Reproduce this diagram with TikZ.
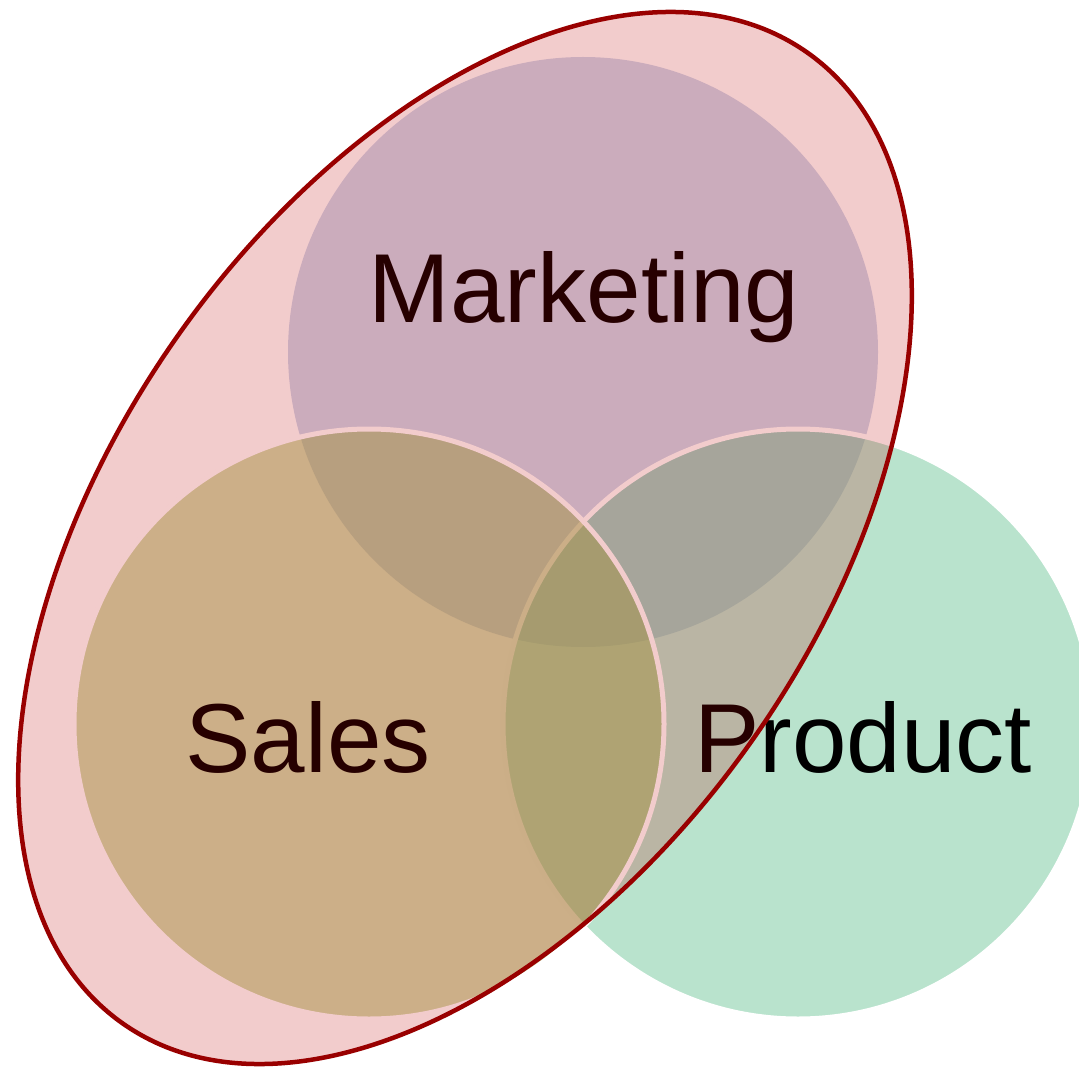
\documentclass[tikz,border=0pt]{standalone}
\usepackage{fontspec}
\setmainfont{Liberation Sans}
\definecolor{mkt}{RGB}{157,175,215}
\definecolor{prd}{RGB}{115,199,155}
\definecolor{sls}{RGB}{159,183,85}
\definecolor{ellfill}{RGB}{192,0,0}
\definecolor{ellline}{RGB}{153,0,0}
\tikzset{
  setcircle/.style={fill opacity=0.5, draw opacity=1},
  stroked/.style={draw=white, line width=5pt},
  lbl/.style={anchor=base, inner sep=0pt, text=black, font=\fontsize{98}{110}\selectfont},
  bigell/.style={fill=ellfill, fill opacity=0.2, draw=ellline, draw opacity=1, line width=4.5pt}
}
\begin{document}
\begin{tikzpicture}[x=1pt,y=1pt]
\useasboundingbox (0,0) rectangle (1079,-1067);
\clip (0,0) rectangle (1079,-1067);
% circles
\fill[mkt, setcircle] (583,-352) circle[radius=295pt];
\path[fill=prd, setcircle, stroked] (798,-724) circle[radius=295pt];
\path[fill=sls, setcircle, stroked] (369,-724) circle[radius=295pt];
% labels
\node[lbl] (marketing) at (584,-323) {Marketing};
\node[lbl] (sales) at (308,-772) {Sales};
\node[lbl] (product) at (863,-772) {Product};
% enclosing ellipse
\path[bigell] (465,-538) ellipse[x radius=594pt, y radius=351.3pt, rotate=54.8];
\end{tikzpicture}
\end{document}
